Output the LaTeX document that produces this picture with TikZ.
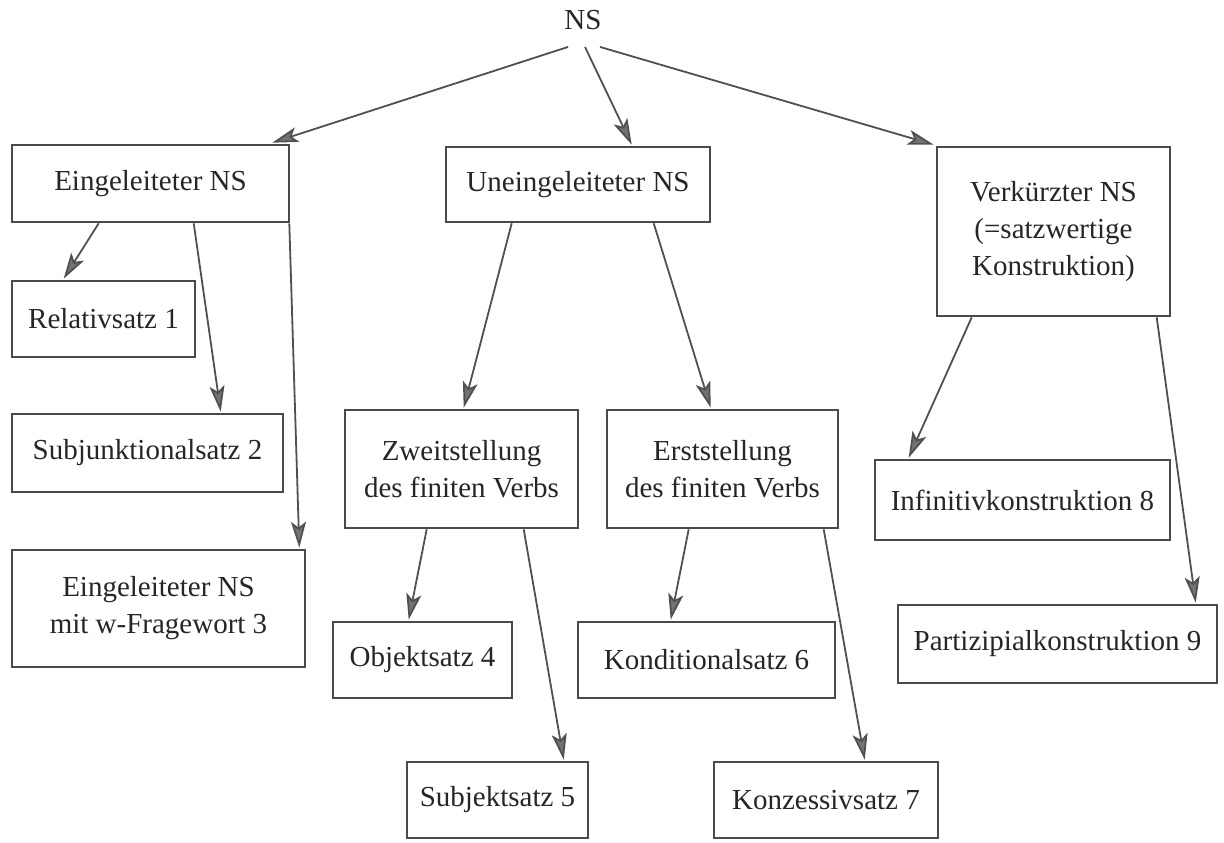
\documentclass[tikz,border=0pt]{standalone}
\usepackage{fontspec}
\setmainfont{Liberation Serif}
\usetikzlibrary{calc,arrows.meta}
\definecolor{boxline}{HTML}{4A4A4A}
\definecolor{arrline}{HTML}{505050}
\definecolor{txt}{HTML}{262626}
\begin{document}
\begin{tikzpicture}[x=1pt,y=-1pt,
  bx/.style={draw=boxline,line width=2.6pt,text=txt,align=center,inner sep=0pt,
    font=\fontsize{29}{37}\selectfont},
  conn/.style={draw=arrline,line width=1.8pt,
    -{Stealth[length=26pt,width=15pt,inset=6pt,fill=arrline!80]}},
]
\fill[white] (0,0) rectangle (1224,843);
\useasboundingbox (0,0) rectangle (1224,843);

\node[text=txt,inner sep=0pt,font=\fontsize{29}{37}\selectfont] (ns) at (583,20) {NS};

\node[bx,minimum width=277pt,minimum height=77pt] (e1) at (150.5,183.5) {Eingeleiteter NS};
\node[bx,minimum width=264pt,minimum height=75pt] (u) at (578,184.5) {Uneingeleiteter NS};
\node[bx,minimum width=233pt,minimum height=169pt] (v) at (1053.5,231.5) {Verkürzter NS\\(=satzwertige\\Konstruktion)};

\node[bx,minimum width=183pt,minimum height=76pt] (r1) at (103.5,319) {Relativsatz 1};
\node[bx,minimum width=271pt,minimum height=78pt] (s2) at (147.5,453) {Subjunktionalsatz 2};
\node[bx,minimum width=293pt,minimum height=117pt] (w3) at (158.5,608.5) {Eingeleiteter NS\\mit w-Fragewort 3};

\node[bx,minimum width=233pt,minimum height=118pt] (z) at (461.5,469) {Zweitstellung\\des finiten Verbs};
\node[bx,minimum width=231pt,minimum height=118pt] (es) at (722.5,469) {Erststellung\\des finiten Verbs};

\node[bx,minimum width=179pt,minimum height=76pt] (o4) at (422.5,660) {Objektsatz 4};
\node[bx,minimum width=257pt,minimum height=76pt] (k6) at (706.5,660) {Konditionalsatz 6};
\node[bx,minimum width=181pt,minimum height=76pt] (s5) at (497.5,800) {Subjektsatz 5};
\node[bx,minimum width=224pt,minimum height=76pt] (k7) at (826,800) {Konzessivsatz 7};

\node[bx,minimum width=295pt,minimum height=80pt] (i8) at (1022.5,500) {Infinitivkonstruktion 8};
\node[bx,minimum width=319pt,minimum height=78pt] (p9) at (1057.5,644) {Partizipialkonstruktion 9};

\draw[conn] ($(ns.south)+(-15,17)$) -- ($(e1.north east)+(-18,-1)$);
\draw[conn] ($(ns.south)+(2,17)$) -- ($(u.north west)+(187,-1)$);
\draw[conn] ($(ns.south)+(17,17)$) -- ($(v.north west)+(-2,-1)$);

\draw[conn] ($(e1.south west)+(88,0)$) -- ($(r1.north west)+(53,-1)$);
\draw[conn] ($(e1.south west)+(183,0)$) -- ($(s2.north west)+(210,-1)$);
\draw[conn] ($(e1.south east)+(-1,0)$) -- ($(w3.north east)+(-7,-1)$);

\draw[conn] ($(u.south west)+(67,0)$) -- ($(z.north west)+(120,-1)$);
\draw[conn] ($(u.south west)+(209,0)$) -- ($(es.north west)+(105,-1)$);

\draw[conn] ($(z.south west)+(83,0)$) -- ($(o4.north west)+(77,-1)$);
\draw[conn] ($(z.south west)+(180,0)$) -- ($(s5.north west)+(158,-1)$);
\draw[conn] ($(es.south west)+(83,0)$) -- ($(k6.north west)+(94,-1)$);
\draw[conn] ($(es.south west)+(218,0)$) -- ($(k7.north west)+(152,-1)$);

\draw[conn] ($(v.south west)+(36,0)$) -- ($(i8.north west)+(35,-1)$);
\draw[conn] ($(v.south west)+(221,0)$) -- ($(p9.north west)+(299,-1)$);
\end{tikzpicture}
\end{document}
